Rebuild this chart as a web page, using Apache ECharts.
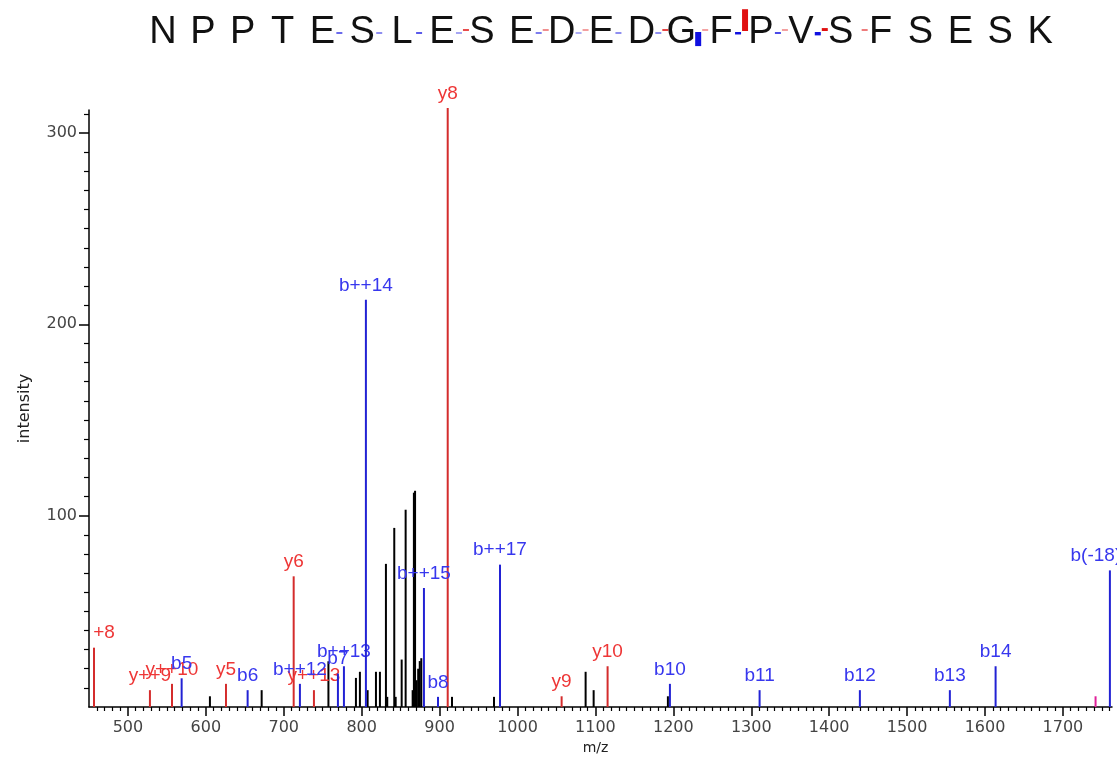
<!DOCTYPE html>
<html><head><meta charset="utf-8">
<script src="https://cdn.jsdelivr.net/npm/echarts@6/dist/echarts.min.js"></script>
<style>html,body{margin:0;padding:0;background:#fff}#c{width:1117px;height:762px}</style>
</head><body><div id="c"></div>
<script>
// ---------------- data ----------------
const sequence = ['N','P','P','T','E','S','L','E','S','E','D','E','D','G','F','P','V','S','F','S','E','S','K'];
// fragment-marker intensity for each gap between residue i and i+1 (0 = none)
const seqB = [0,0,0,0,15,9,17.5,5,0,12,4,9,9,213,62,20,74,0,0,0,0,0];
const seqY = [0,0,0,0,0,0,0,20,0,9,6,0,21,5.6,313,6,68,12,0,0,0,0];

// unassigned peaks (black)
const otherMz  = [605.2,671.6,757.3,792.6,797.7,807.6,818.3,823.4,831.1,832.8,841.8,843.6,851.3,856.4,865.4,867.0,868.5,870.5,872.5,874.5,876.5,915.9,969.8,1087.4,1097.7,1193.0];
const otherInt = [5.6,8.8,23.9,15.2,18.4,8.8,18.4,18.4,74.8,5.3,93.6,5.3,24.8,103.1,8.8,112,113,14,20,24,25.5,5.3,5.3,18.4,8.8,5.6];

// b ions (blue)
const bMz     = [568.9,653.6,720.7,769.5,777.2,805.4,879.9,897.9,977.5,1195.6,1310.7,1439.4,1554.9,1613.6,1760.3];
const bInt    = [15,8.8,12.1,17.5,21.3,212.8,62.2,5.3,74.4,12.1,8.8,8.8,8.8,21.3,71.4];
const bLabels = ['b5','b6','b++12','b7','b++13','b++14','b++15','b8','b++17','b10','b11','b12','b13','b14','b(-18)'];

// y ions (red)
const yMz     = [456.4,528.2,556.5,625.8,712.7,738.7,910.4,1056.6,1115.6];
const yInt    = [31,8.8,12.1,12.1,68.3,8.8,313,5.6,21.3];
const yLabels = ['+8','y++9','y++10','y5','y6','y++13','y8','y9','y10'];

// other modified ion (magenta)
const modMz  = [1741.9];
const modInt = [5.6];

// axis ticks
const xMajor = [500,600,700,800,900,1000,1100,1200,1300,1400,1500,1600,1700];
const yMajor = [100,200,300];
const xMinor = []; for (let v = 460; v <= 1760; v += 10) if (v % 100) xMinor.push(v);
const yMinor = []; for (let v = 10; v <= 310; v += 10) if (v % 100) yMinor.push(v);

// ---------------- chart ----------------
const labelNudge = {'+8': 10, 'b(-18)': -14};
const LABEL_FONT = '19px "Liberation Sans", Arial, sans-serif';

function peakSeries(mz, inten, labels, color, labelColor, z) {
  const data = mz.map((m, i) => [m, inten[i]]);
  return {
    type: 'custom', xAxisIndex: 0, yAxisIndex: 0, z: z, data: data,
    encode: {x: 0, y: 1}, silent: true,
    renderItem: function (params, api) {
      const x = api.value(0), y = api.value(1);
      const p0 = api.coord([x, 0]), p1 = api.coord([x, y]);
      const children = [{
        type: 'line',
        shape: {x1: p0[0], y1: p0[1], x2: p1[0], y2: p1[1]},
        style: {stroke: color, lineWidth: 2}
      }];
      const lab = labels ? labels[params.dataIndex] : '';
      if (lab) {
        children.push({
          type: 'text',
          style: {text: lab, x: p1[0] + (labelNudge[lab] || 0), y: p1[1] - 5,
                  align: 'center', verticalAlign: 'bottom', fill: labelColor, font: LABEL_FONT}
        });
      }
      return {type: 'group', children: children};
    }
  };
}

const seqData = sequence.map((s, i) => [i, s]);
const gapData = seqB.map((b, i) => [i + 0.5, b, seqY[i]]);
const plain = v => String(v);

const option = {
  animation: false,
  backgroundColor: '#fff',
  grid: [
    {left: 89, right: 5, top: 110, bottom: 55},
    {left: 143, right: 57, top: 0, height: 64}
  ],
  xAxis: [
    {type: 'value', gridIndex: 0, min: 450, max: 1763, position: 'bottom',
     name: 'm/z', nameLocation: 'middle', nameGap: 32,
     nameTextStyle: {fontFamily: 'DejaVu Sans', fontSize: 14, color: '#222', padding: [0, 10, 0, 0]},
     axisLine: {show: true, lineStyle: {color: '#000', width: 1.5}},
     axisTick: {show: true, length: 9, customValues: xMajor, lineStyle: {color: '#000', width: 1.5}},
     axisLabel: {customValues: xMajor, formatter: plain, margin: 13, fontFamily: 'DejaVu Sans', fontSize: 16, color: '#444'},
     splitLine: {show: false}},
    {type: 'value', gridIndex: 0, min: 450, max: 1763, position: 'bottom',
     axisLine: {show: false},
     axisTick: {show: true, length: 4, customValues: xMinor, lineStyle: {color: '#000', width: 1.2}},
     axisLabel: {show: false}, splitLine: {show: false}},
    {type: 'value', gridIndex: 1, min: -0.5, max: 22.5, show: false}
  ],
  yAxis: [
    {type: 'value', gridIndex: 0, min: 0, max: 312, position: 'left',
     name: 'intensity', nameLocation: 'middle', nameGap: 56, nameRotate: 90,
     nameTextStyle: {fontFamily: 'DejaVu Sans', fontSize: 16, color: '#222'},
     axisLine: {show: true, lineStyle: {color: '#000', width: 1.5}},
     axisTick: {show: true, length: 10, customValues: yMajor, lineStyle: {color: '#000', width: 1.5}},
     axisLabel: {customValues: yMajor, formatter: plain, margin: 12, fontFamily: 'DejaVu Sans', fontSize: 16, color: '#444'},
     splitLine: {show: false}},
    {type: 'value', gridIndex: 0, min: 0, max: 312, position: 'left',
     axisLine: {show: false},
     axisTick: {show: true, length: 5, customValues: yMinor, lineStyle: {color: '#000', width: 1.2}},
     axisLabel: {show: false}, splitLine: {show: false}},
    {type: 'value', gridIndex: 1, min: 0, max: 64, inverse: true, show: false}
  ],
  series: [
    peakSeries(otherMz, otherInt, null, '#000000', '#000', 2),
    peakSeries(modMz, modInt, null, '#e0209a', '#e0209a', 3),
    peakSeries(yMz, yInt, yLabels, '#d42c2c', '#ee3636', 4),
    peakSeries(bMz, bInt, bLabels, '#2222d4', '#3737ee', 5),
    {
      type: 'custom', xAxisIndex: 2, yAxisIndex: 2, data: seqData, silent: true,
      renderItem: function (params, api) {
        const p = api.coord([api.value(0), 32.5]);
        return {type: 'text', style: {text: sequence[params.dataIndex], x: p[0], y: p[1],
          align: 'center', verticalAlign: 'middle', fill: '#111',
          font: '38px "Liberation Sans", Arial, sans-serif'}};
      }
    },
    {
      type: 'custom', xAxisIndex: 2, yAxisIndex: 2, data: gapData, silent: true,
      renderItem: function (params, api) {
        const g = api.value(0), bI = api.value(1), yI = api.value(2);
        const children = [];
        const hOf = I => Math.max(2, (I - 30) * 0.077);
        const aOf = I => Math.min(1, 0.25 + I / 40);
        if (bI > 0) {
          const p = api.coord([g, 32]);
          children.push({type: 'rect', shape: {x: p[0] - 6, y: p[1], width: 6, height: hOf(bI)},
            style: {fill: '#1010e0', opacity: aOf(bI)}});
        }
        if (yI > 0) {
          const p = api.coord([g, 31]);
          const h = hOf(yI);
          children.push({type: 'rect', shape: {x: p[0] + 1, y: p[1] - h, width: 6, height: h},
            style: {fill: '#e01010', opacity: aOf(yI)}});
        }
        return {type: 'group', children: children};
      }
    }
  ]
};

const chart = echarts.init(document.getElementById('c'), null, {renderer: 'canvas'});
chart.setOption(option);
</script>
</body></html>
